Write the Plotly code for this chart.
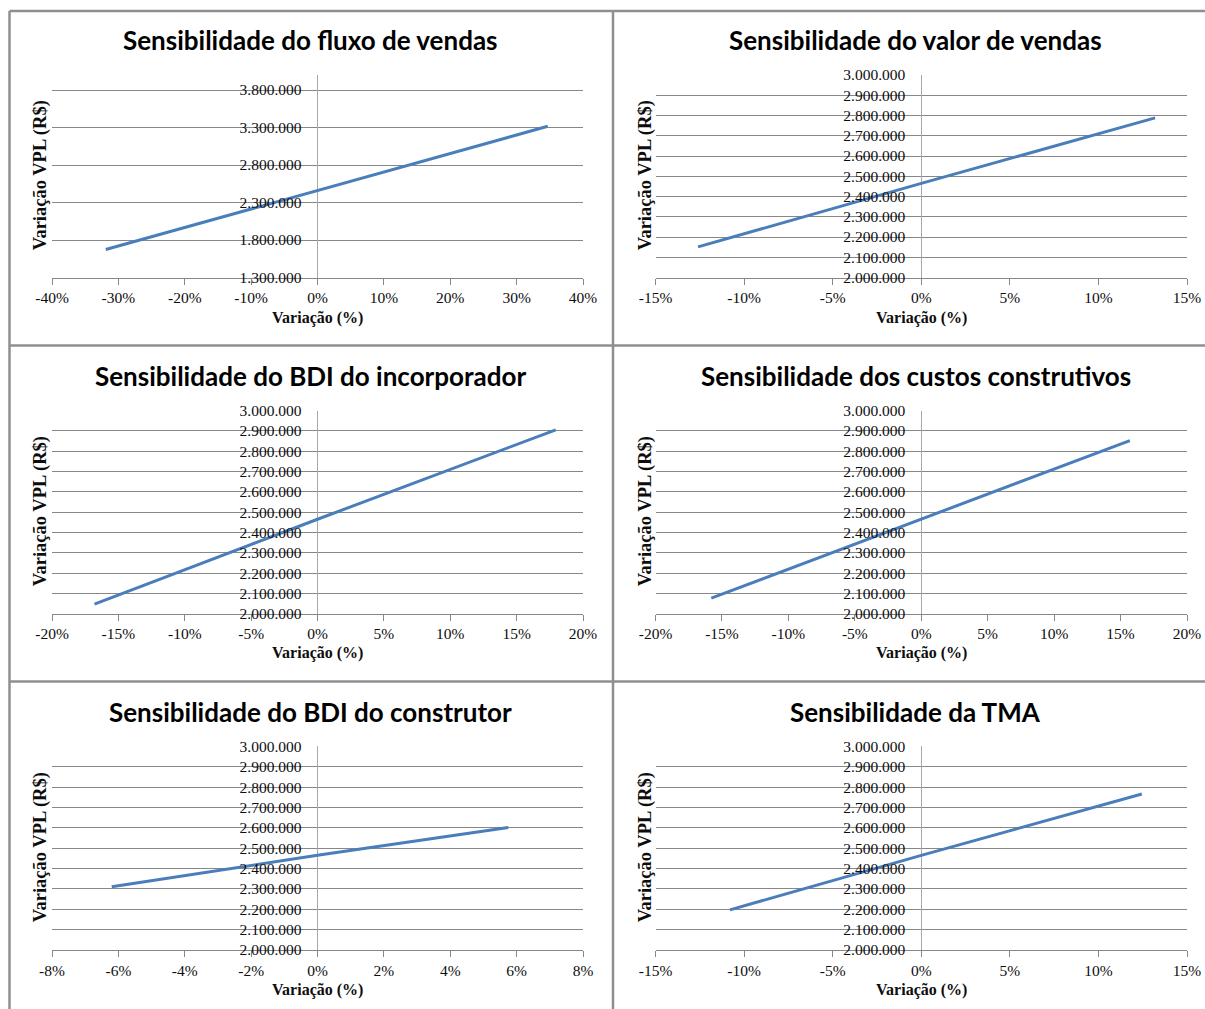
import plotly.graph_objects as go

W, H = 1205, 1009

# ---- data -------------------------------------------------------------
titles = [
    "Sensibilidade do fluxo de vendas",
    "Sensibilidade do valor de vendas",
    "Sensibilidade do BDI do incorporador",
    "Sensibilidade dos custos construtivos",
    "Sensibilidade do BDI do construtor",
    "Sensibilidade da TMA",
]

# variation (%) and resulting NPV (R$) per scenario
fluxo_x = [-31.9, 0, 34.7]
fluxo_y = [1673000, 2463000, 3316000]

valor_x = [-12.6, 0, 13.2]
valor_y = [2151000, 2465000, 2788000]

bdi_inc_x = [-16.8, 0, 17.95]
bdi_inc_y = [2048000, 2465000, 2905000]

custos_x = [-15.8, 0, 15.7]
custos_y = [2077000, 2465000, 2852000]

bdi_con_x = [-6.2, 0, 5.75]
bdi_con_y = [2311000, 2465000, 2602000]

tma_x = [-10.8, 0, 12.45]
tma_y = [2197000, 2465000, 2766000]

# axis tick values
x_ticks = [
    [-40, -30, -20, -10, 0, 10, 20, 30, 40],
    [-15, -10, -5, 0, 5, 10, 15],
    [-20, -15, -10, -5, 0, 5, 10, 15, 20],
    [-20, -15, -10, -5, 0, 5, 10, 15, 20],
    [-8, -6, -4, -2, 0, 2, 4, 6, 8],
    [-15, -10, -5, 0, 5, 10, 15],
]
y_ticks_fluxo = [1300000, 1800000, 2300000, 2800000, 3300000, 3800000]
y_ticks_std = [2000000, 2100000, 2200000, 2300000, 2400000, 2500000,
               2600000, 2700000, 2800000, 2900000, 3000000]
y_ticks = [y_ticks_fluxo] + [y_ticks_std] * 5
y_ranges = [[1300000, 4000000]] + [[2000000, 3000000]] * 5

series_x = [fluxo_x, valor_x, bdi_inc_x, custos_x, bdi_con_x, tma_x]
series_y = [fluxo_y, valor_y, bdi_inc_y, custos_y, bdi_con_y, tma_y]

# ---- layout geometry (pixels) -----------------------------------------
col_px = [(52, 583), (655.5, 1187)]
row_px = [(75, 277.5), (410.5, 613.8), (746.4, 950)]
title_y_px = [40, 376, 712]
xtitle_y_px = [318, 653, 990]
ytitle_x_px = [40, 645]
title_x_px = [310.5, 915.5]


def fx(px):
    return px / W


def fy(py):
    return 1 - py / H


def fmt_money(v):
    return f"{v:,}".replace(",", ".")


LINE = "#4a7ebb"
GRID = "#878787"
ZERO = "#a8a8a8"
TXT = "#0d0d0d"
SERIF = "Liberation Serif"
SANS = "Lato"

fig = go.Figure()
layout = dict(
    width=W, height=H,
    margin=dict(l=0, r=0, t=0, b=0, pad=0, autoexpand=False),
    paper_bgcolor="white", plot_bgcolor="white",
    showlegend=False,
    annotations=[], shapes=[],
)

for i in range(6):
    r, c = divmod(i, 2)
    n = "" if i == 0 else str(i + 1)
    x0, x1 = col_px[c]
    top, bot = row_px[r]
    fig.add_trace(go.Scatter(
        x=series_x[i], y=series_y[i], mode="lines",
        line=dict(color=LINE, width=3),
        xaxis="x" + n, yaxis="y" + n, hoverinfo="skip",
    ))
    xt = x_ticks[i]
    layout["xaxis" + n] = dict(
        domain=[fx(x0), fx(x1)], anchor="y" + n,
        range=[xt[0], xt[-1]],
        tickmode="array", tickvals=xt, ticktext=[f"{v}%" for v in xt],
        showgrid=False, zeroline=True, zerolinecolor=ZERO, zerolinewidth=1,
        showline=True, linecolor=GRID, linewidth=1,
        ticks="outside", ticklen=6, tickcolor=GRID, tickwidth=1,
        tickfont=dict(family=SERIF, size=15.5, color=TXT),
        ticklabelstandoff=0,
        automargin=False,
        fixedrange=True,
    )
    yt = y_ticks[i]
    layout["yaxis" + n] = dict(
        domain=[fy(bot), fy(top)], anchor="free",
        position=fx((x0 + x1) / 2),
        range=y_ranges[i],
        tickmode="array", tickvals=yt, ticktext=[fmt_money(v) for v in yt],
        showgrid=True, gridcolor=GRID, gridwidth=1,
        zeroline=False, showline=False, ticks="",
        ticklabelstandoff=16,
        tickfont=dict(family=SERIF, size=15.5, color=TXT),
        automargin=False,
        fixedrange=True,
    )
    # panel title
    layout["annotations"].append(dict(
        text=f"<b>{titles[i]}</b>", xref="paper", yref="paper",
        x=fx(title_x_px[c]), y=fy(title_y_px[r]),
        xanchor="center", yanchor="middle", showarrow=False,
        font=dict(family=SANS, size=26, color="#000000"),
    ))
    # axis titles
    layout["annotations"].append(dict(
        text="<b>Variação (%)</b>", xref="paper", yref="paper",
        x=fx((x0 + x1) / 2), y=fy(xtitle_y_px[r]),
        xanchor="center", yanchor="middle", showarrow=False,
        font=dict(family=SERIF, size=16, color=TXT),
    ))
    layout["annotations"].append(dict(
        text="<b>Variação VPL (R$)</b>", xref="paper", yref="paper",
        x=fx(ytitle_x_px[c]), y=fy((top + bot) / 2 - 1),
        xanchor="center", yanchor="middle", showarrow=False, textangle=-90,
        font=dict(family=SERIF, size=18.5, color=TXT),
    ))

# panel frame lines
BORDER = "#8f8f8f"
frame = [
    (9.5, 11, W, 11),        # top edge
    (9.5, 11, 9.5, H),       # left edge
    (613, 11, 613, H),       # column divider
    (9.5, 345.5, W, 345.5),  # row divider 1
    (9.5, 681.5, W, 681.5),  # row divider 2
]
for (a, b, cx, d) in frame:
    layout["shapes"].append(dict(
        type="line", xref="paper", yref="paper",
        x0=fx(a), y0=fy(b), x1=fx(cx), y1=fy(d),
        line=dict(color=BORDER, width=2.5),
    ))

fig.update_layout(**layout)
fig.write_html("out.html")
